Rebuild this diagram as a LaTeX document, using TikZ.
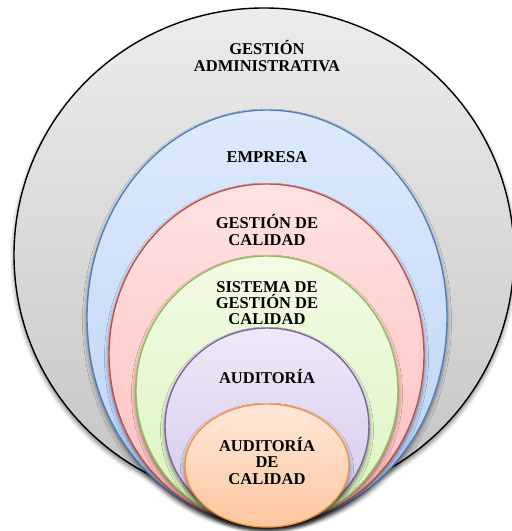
\documentclass[tikz,border=0pt]{standalone}
\usepackage{fontspec}
\setmainfont{Liberation Serif}
\usetikzlibrary{shadows.blur}
\definecolor{grayTop}{RGB}{236,236,236}
\definecolor{grayBot}{RGB}{196,196,196}
\definecolor{blueLine}{RGB}{79,129,189}
\definecolor{blueTop}{RGB}{222,234,251}
\definecolor{blueBot}{RGB}{186,210,248}
\definecolor{redLine}{RGB}{192,80,77}
\definecolor{redTop}{RGB}{255,226,226}
\definecolor{redBot}{RGB}{255,190,190}
\definecolor{greenLine}{RGB}{155,187,89}
\definecolor{greenTop}{RGB}{242,251,230}
\definecolor{greenBot}{RGB}{218,244,190}
\definecolor{purpleLine}{RGB}{128,100,162}
\definecolor{purpleTop}{RGB}{238,232,247}
\definecolor{purpleBot}{RGB}{212,200,234}
\definecolor{orangeLine}{RGB}{247,150,70}
\definecolor{orangeTop}{RGB}{255,232,218}
\definecolor{orangeBot}{RGB}{253,198,158}
\begin{document}
\begin{tikzpicture}[x=1pt,y=1pt,
  ring/.style={line width=1.4pt,
    blur shadow={shadow xshift=0pt, shadow yshift=-3.5pt,
      shadow blur radius=4.5pt, shadow opacity=55}},
  lbl/.style={font=\bfseries\fontsize{16.5}{16.3}\selectfont,
    align=center, inner sep=0pt}]
\useasboundingbox (0,0) rectangle (512,531);

% nested sets, outermost first
\path[ring, draw=black, top color=grayTop, bottom color=grayBot]
  (264,276) ellipse [x radius=250, y radius=247];
\path[ring, draw=blueLine, top color=blueTop, bottom color=blueBot]
  (267,213.5) ellipse [x radius=180, y radius=207.5];
\path[ring, draw=redLine, top color=redTop, bottom color=redBot]
  (266.5,176.5) ellipse [x radius=157.5, y radius=170.5];
\path[ring, draw=greenLine, top color=greenTop, bottom color=greenBot]
  (267,140.5) ellipse [x radius=131, y radius=134.5];
\path[ring, draw=purpleLine, top color=purpleTop, bottom color=purpleBot]
  (267,104.5) ellipse [x radius=102, y radius=98.5];
\path[ring, draw=orangeLine, top color=orangeTop, bottom color=orangeBot]
  (267,65.5) ellipse [x radius=82, y radius=61.5];

% labels
\node[lbl] (admin)   at (267,475) {GESTIÓN\\ADMINISTRATIVA};
\node[lbl] (empresa) at (267,374) {EMPRESA};
\node[lbl] (gcal)    at (267,301) {GESTIÓN DE\\CALIDAD};
\node[lbl] (sgc)     at (267,228) {SISTEMA DE\\GESTIÓN DE\\CALIDAD};
\node[lbl] (aud)     at (267,154) {AUDITORÍA};
\node[lbl] (audcal)  at (267,70)  {AUDITORÍA\\DE\\CALIDAD};
\end{tikzpicture}
\end{document}
